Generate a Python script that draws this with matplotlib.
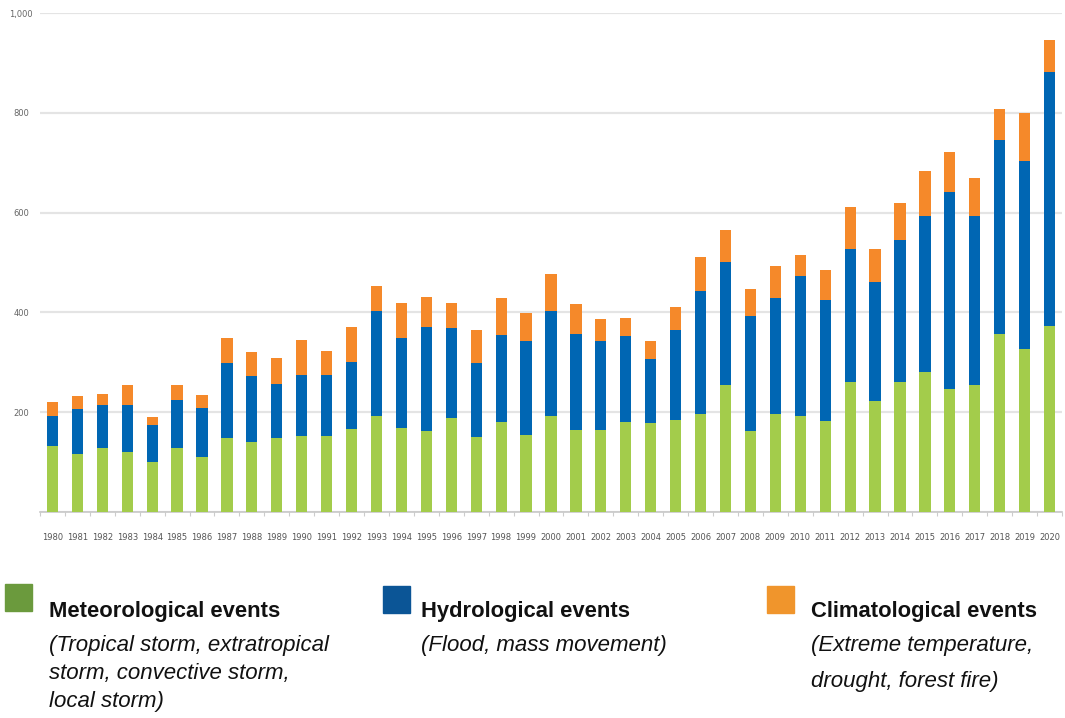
import numpy as np
import matplotlib
matplotlib.use("Agg")
import matplotlib.pyplot as plt
from matplotlib.patches import Rectangle
from matplotlib.ticker import FuncFormatter, MultipleLocator

years = list(range(1980, 2021))

# cumulative tops of each stack, read per year
meteorological_top = [133, 117, 128, 121, 101, 128, 111, 149, 141, 149, 152, 152, 166,
                      192, 169, 163, 188, 150, 181, 155, 192, 165, 165, 181, 178, 185,
                      197, 254, 163, 197, 192, 182, 261, 223, 261, 281, 246, 254, 356,
                      327, 372]
hydrological_top = [193, 207, 214, 214, 174, 225, 208, 299, 272, 257, 275, 275, 300,
                    403, 349, 371, 368, 298, 354, 343, 403, 356, 343, 352, 307, 365,
                    442, 501, 393, 429, 473, 425, 528, 461, 546, 593, 641, 593, 746,
                    703, 881]
climatological_top = [221, 232, 237, 254, 190, 254, 234, 348, 320, 308, 345, 323, 370,
                      453, 419, 431, 419, 365, 429, 399, 476, 416, 387, 388, 343, 411,
                      512, 566, 447, 492, 516, 485, 611, 527, 619, 684, 721, 670, 808,
                      800, 946]

meteorological = np.array(meteorological_top)
hydrological = np.array(hydrological_top) - meteorological
climatological = np.array(climatological_top) - np.array(hydrological_top)

BAR_GREEN = "#a3cc4b"
BAR_BLUE = "#0066b3"
BAR_ORANGE = "#f5892a"

W, H = 1065, 718
fig = plt.figure(figsize=(W / 100, H / 100), dpi=100)
ax = fig.add_axes([40 / W, 1 - 512 / H, (1062 - 40) / W, (512 - 13) / H])

x = np.arange(len(years))
bw = 0.45
ax.bar(x, meteorological, width=bw, color=BAR_GREEN, zorder=3)
ax.bar(x, hydrological, width=bw, bottom=meteorological, color=BAR_BLUE, zorder=3)
ax.bar(x, climatological, width=bw, bottom=meteorological + hydrological,
       color=BAR_ORANGE, zorder=3)

ax.set_xlim(-0.5, len(years) - 0.5)
ax.set_ylim(0, 1000)
ax.yaxis.set_major_locator(MultipleLocator(200))
ax.yaxis.set_major_formatter(FuncFormatter(lambda v, p: "" if v == 0 else f"{int(v):,}"))
ax.grid(axis="y", color="#e4e4e4", lw=1.6, zorder=0)
ax.set_axisbelow(True)

for side in ["top", "right", "left"]:
    ax.spines[side].set_visible(False)
ax.spines["bottom"].set_color("#c8c8c8")
ax.spines["bottom"].set_linewidth(1.2)

ax.set_xticks(x)
ax.set_xticklabels([str(y) for y in years])
ax.set_xticks(np.arange(-0.5, len(years), 1.0), minor=True)
ax.tick_params(axis="x", which="major", length=0, pad=15, labelsize=6,
               labelcolor="#555555")
ax.tick_params(axis="x", which="minor", length=3, width=0.8, color="#cccccc")
ax.tick_params(axis="y", length=0, pad=13.5, labelsize=6, labelcolor="#666666")
for lab in ax.get_yticklabels():
    lab.set_horizontalalignment("center")

# legend blocks under the chart
def px(xp, yp):
    return xp / W, 1 - yp / H

legend_items = [
    (5, 584, "#6b9a3d", 49, "Meteorological events",
     ["(Tropical storm, extratropical", "storm, convective storm,", "local storm)"], 28),
    (383, 586, "#0b5596", 421, "Hydrological events",
     ["(Flood, mass movement)"], 28),
    (767, 586, "#f0952c", 811, "Climatological events",
     ["(Extreme temperature,", "drought, forest fire)"], 35),
]
for sx, sy, col, tx, head, lines, step in legend_items:
    fig.patches.append(Rectangle(px(sx, sy + 27), 27 / W, 27 / H, color=col,
                                 transform=fig.transFigure, figure=fig))
    fig.text(*px(tx, 611), head, fontsize=15.8, fontweight="bold",
             family="Liberation Sans", color="#111111", va="center", ha="left")
    for i, line in enumerate(lines):
        fig.text(*px(tx, 646 + i * step), line, fontsize=16, style="italic",
                 family="Liberation Sans", color="#111111", va="center", ha="left")

fig.savefig("out.png", dpi=100, facecolor="white")
